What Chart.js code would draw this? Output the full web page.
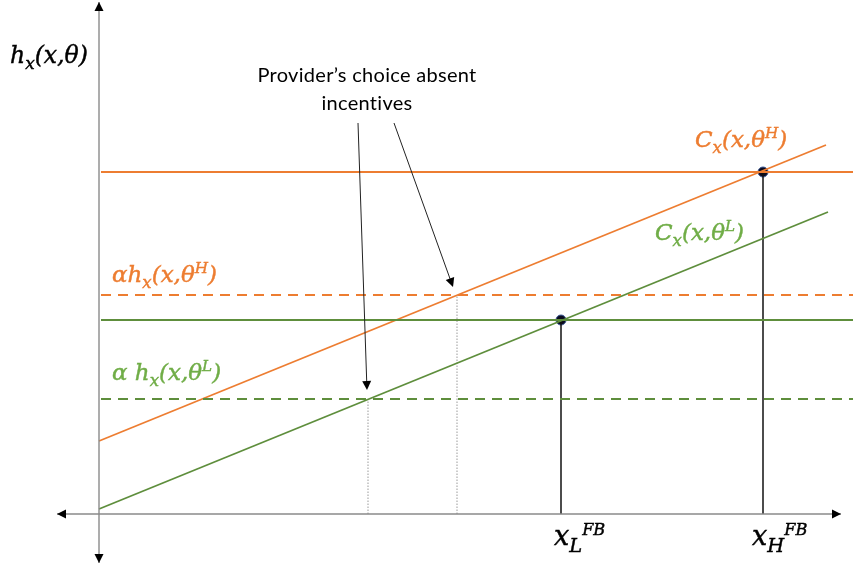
<!DOCTYPE html>
<html>
<head>
<meta charset="utf-8">
<script src="https://cdn.jsdelivr.net/npm/chart.js@4/dist/chart.umd.min.js"></script>
<style>
  html, body { margin: 0; padding: 0; background: #ffffff; }
  #wrap { width: 853px; height: 572px; }
  canvas { display: block; }
</style>
</head>
<body>
<div id="wrap"><canvas id="chart" width="853" height="572"></canvas></div>
<script>
// ---- Model values (abstract units, origin at 0,0) ----
const costHigh = [{ x: 0, y: 7.3 }, { x: 72.7, y: 36.9 }];   // C_x(x, θ^H)
const costLow  = [{ x: 0, y: 0.5 }, { x: 72.9, y: 30.2 }];   // C_x(x, θ^L)

const benefitHigh      = 34.2;   // h_x(x, θ^H)
const alphaBenefitHigh = 21.9;   // α h_x(x, θ^H)
const benefitLow       = 19.4;   // h_x(x, θ^L)
const alphaBenefitLow  = 11.5;   // α h_x(x, θ^L)

const firstBestX   = [46.2, 66.4];  // x_L^FB, x_H^FB
const firstBestY   = [benefitLow, benefitHigh];
const noIncentiveX = [26.9, 35.8];  // provider's choice without incentives (L, H)
const noIncentiveY = [alphaBenefitLow, alphaBenefitHigh];

const levelStart = 0.2;
const xRange = [-9.9, 75.4];
const yRange = [-5.8, 51.4];
const xAxisSpan = [-4.2, 74.2];
const yAxisSpan = [-4.9, 51.2];

const calloutText = ['Provider\u2019s choice absent', 'incentives'];
const calloutArrows = [
  { from: { x: 25.9, y: 39.1 }, to: { x: 26.8, y: 12.4 } },
  { from: { x: 29.5, y: 39.1 }, to: { x: 35.4, y: 22.7 } }
];

// ---- Styles ----
const ORANGE = '#ed7d31';
const GREEN_LINE = '#5e8e3c';
const GREEN_TEXT = '#70ad47';
const AXIS = '#8a8a8a';
const MATH_FONT = '"DejaVu Serif", "Liberation Serif", serif';
const TEXT_FONT = 'Lato, "Open Sans", sans-serif';

// Math labels: segments with optional sub/superscript shift
const mathLabels = [
  { at: { x: -8.9, y: 45.1 }, size: 23.5, color: '#000000',
    parts: [['h'], ['x', 'sub'], ['(x,θ)']] },
  { at: { x: 59.6, y: 36.7 }, size: 23, color: ORANGE,
    parts: [['C'], ['x', 'sub'], ['(x,θ'], ['H', 'sup'], [')']] },
  { at: { x: 55.6, y: 27.4 }, size: 23, color: GREEN_TEXT,
    parts: [['C'], ['x', 'sub'], ['(x,θ'], ['L', 'sup'], [')']] },
  { at: { x: 1.3, y: 23.2 }, size: 23, color: ORANGE,
    parts: [['αh'], ['x', 'sub'], ['(x,θ'], ['H', 'sup'], [')']] },
  { at: { x: 1.3, y: 13.4 }, size: 23, color: GREEN_TEXT,
    parts: [['α h'], ['x', 'sub'], ['(x,θ'], ['L', 'sup'], [')']] },
  { at: { x: 45.5, y: -3.1 }, size: 27, color: '#000000',
    parts: [['x'], ['L', 'sub'], ['FB', 'sup2']] },
  { at: { x: 65.3, y: -3.1 }, size: 27, color: '#000000',
    parts: [['x'], ['H', 'sub'], ['FB', 'sup2']] }
];

function levelLine(y) {
  return [{ x: levelStart, y: y }, { x: xRange[1], y: y }];
}
function seg(a, b, opts) {
  return Object.assign({
    data: [a, b], showLine: true, pointRadius: 0, fill: false,
    borderWidth: 1.5, tension: 0
  }, opts);
}

const datasets = [
  // axes
  seg({ x: 0, y: yAxisSpan[0] }, { x: 0, y: yAxisSpan[1] }, { borderColor: AXIS, borderWidth: 1.4 }),
  seg({ x: xAxisSpan[0], y: 0 }, { x: xAxisSpan[1], y: 0 }, { borderColor: AXIS, borderWidth: 1.4 }),
  // benefit levels
  { data: levelLine(benefitHigh), showLine: true, pointRadius: 0, borderColor: ORANGE, borderWidth: 1.8 },
  { data: levelLine(alphaBenefitHigh), showLine: true, pointRadius: 0, borderColor: ORANGE, borderWidth: 1.8, borderDash: [10, 7] },
  { data: levelLine(benefitLow), showLine: true, pointRadius: 0, borderColor: GREEN_LINE, borderWidth: 1.8 },
  { data: levelLine(alphaBenefitLow), showLine: true, pointRadius: 0, borderColor: GREEN_LINE, borderWidth: 1.8, borderDash: [10, 7] },
  // marginal cost curves
  { data: costHigh, showLine: true, pointRadius: 0, borderColor: ORANGE, borderWidth: 1.8 },
  { data: costLow, showLine: true, pointRadius: 0, borderColor: GREEN_LINE, borderWidth: 1.8 },
  // dotted drops at the no-incentive choices
  seg({ x: noIncentiveX[0], y: 0 }, { x: noIncentiveX[0], y: noIncentiveY[0] }, { borderColor: '#9a9a9a', borderWidth: 1, borderDash: [1.5, 1.5] }),
  seg({ x: noIncentiveX[1], y: 0 }, { x: noIncentiveX[1], y: noIncentiveY[1] }, { borderColor: '#9a9a9a', borderWidth: 1, borderDash: [1.5, 1.5] }),
  // first-best drops
  seg({ x: firstBestX[0], y: 0 }, { x: firstBestX[0], y: firstBestY[0] }, { borderColor: '#111111', borderWidth: 1.5 }),
  seg({ x: firstBestX[1], y: 0 }, { x: firstBestX[1], y: firstBestY[1] }, { borderColor: '#111111', borderWidth: 1.5 }),
  // first-best points
  { data: firstBestX.map((x, i) => ({ x: x, y: firstBestY[i] })), showLine: false,
    pointRadius: 5, pointBackgroundColor: '#0b0b1e', pointBorderColor: '#3d5a96', pointBorderWidth: 1 }
];

function arrowHead(ctx, from, to, len, half, color) {
  const ang = Math.atan2(to.y - from.y, to.x - from.x);
  ctx.save();
  ctx.translate(to.x, to.y);
  ctx.rotate(ang);
  ctx.beginPath();
  ctx.moveTo(0, 0);
  ctx.lineTo(-len, -half);
  ctx.lineTo(-len, half);
  ctx.closePath();
  ctx.fillStyle = color;
  ctx.fill();
  ctx.restore();
}

function drawMath(ctx, px, py, size, color, parts) {
  let x = px;
  ctx.fillStyle = color;
  ctx.strokeStyle = color;
  ctx.lineWidth = 0.45;
  ctx.textBaseline = 'alphabetic';
  ctx.textAlign = 'left';
  for (const [t, kind] of parts) {
    let s = size, dy = 0;
    if (kind === 'sub') { s = size * 0.72; dy = size * 0.26; }
    else if (kind === 'sup') { s = size * 0.66; dy = -size * 0.38; }
    else if (kind === 'sup2') { s = size * 0.6; dy = -size * 0.38; }
    ctx.font = 'italic ' + s + 'px ' + MATH_FONT;
    ctx.fillText(t, x, py + dy);
    ctx.strokeText(t, x, py + dy);
    x += ctx.measureText(t).width;
  }
}

const overlay = {
  id: 'overlay',
  afterDatasetsDraw(chart) {
    const { ctx, scales: { x: sx, y: sy } } = chart;
    const P = (p) => ({ x: sx.getPixelForValue(p.x), y: sy.getPixelForValue(p.y) });

    // axis arrowheads
    const o = P({ x: 0, y: 0 });
    arrowHead(ctx, o, P({ x: 0, y: yAxisSpan[1] }), 9, 4.5, '#000');
    arrowHead(ctx, o, P({ x: 0, y: yAxisSpan[0] }), 9, 4.5, '#000');
    arrowHead(ctx, o, P({ x: xAxisSpan[1], y: 0 }), 9, 4.5, '#000');
    arrowHead(ctx, o, P({ x: xAxisSpan[0], y: 0 }), 9, 4.5, '#000');

    // callout arrows
    for (const a of calloutArrows) {
      const f = P(a.from), t = P(a.to);
      ctx.save();
      ctx.strokeStyle = '#222';
      ctx.lineWidth = 1;
      ctx.beginPath();
      ctx.moveTo(f.x, f.y);
      const ang = Math.atan2(t.y - f.y, t.x - f.x);
      ctx.lineTo(t.x - 8 * Math.cos(ang), t.y - 8 * Math.sin(ang));
      ctx.stroke();
      ctx.restore();
      arrowHead(ctx, f, t, 9, 4.5, '#000');
    }

    // callout text
    ctx.save();
    ctx.fillStyle = '#000';
    ctx.font = '20px ' + TEXT_FONT;
    ctx.letterSpacing = '0.3px';
    ctx.textAlign = 'center';
    ctx.textBaseline = 'alphabetic';
    const c1 = P({ x: 26.8, y: 43.2 });
    ctx.fillText(calloutText[0], c1.x, c1.y);
    ctx.fillText(calloutText[1], c1.x, c1.y + 28);
    ctx.restore();

    // math labels
    ctx.save();
    for (const l of mathLabels) {
      const p = P(l.at);
      drawMath(ctx, p.x, p.y, l.size, l.color, l.parts);
    }
    ctx.restore();
  }
};

new Chart(document.getElementById('chart'), {
  type: 'scatter',
  data: { datasets: datasets },
  options: {
    responsive: false,
    animation: false,
    layout: { padding: 0, autoPadding: false },
    plugins: { legend: { display: false }, tooltip: { enabled: false } },
    scales: {
      x: { type: 'linear', min: xRange[0], max: xRange[1], display: false },
      y: { type: 'linear', min: yRange[0], max: yRange[1], display: false }
    }
  },
  plugins: [overlay]
});
</script>
</body>
</html>
